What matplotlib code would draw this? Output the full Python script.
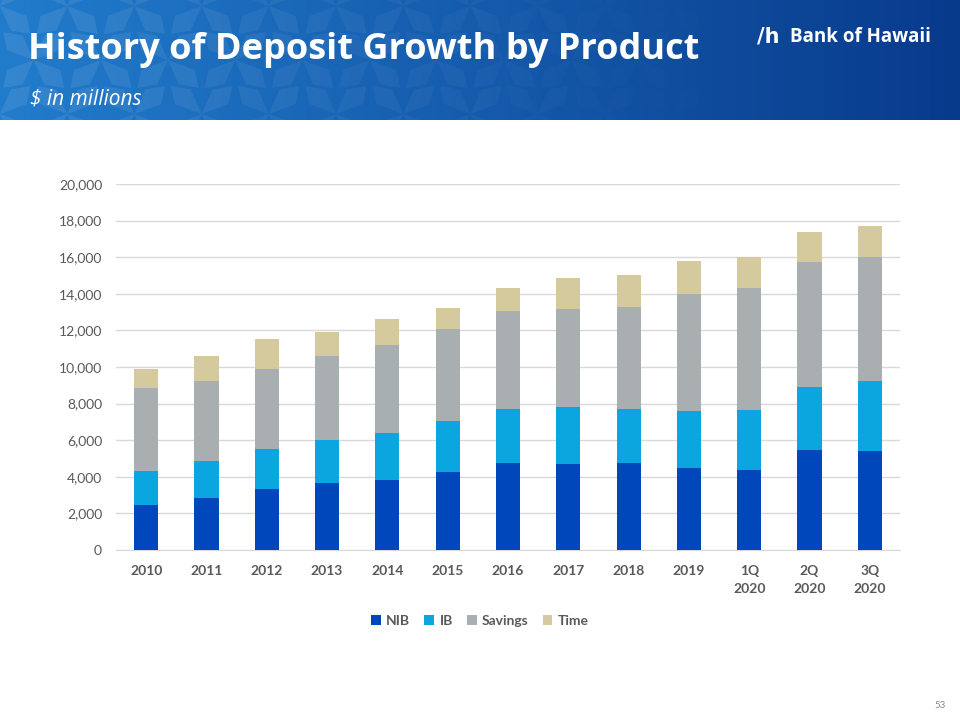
import matplotlib
matplotlib.use("Agg")
import matplotlib.pyplot as plt
import numpy as np
from matplotlib.patches import Polygon

categories = ["2010", "2011", "2012", "2013", "2014", "2015", "2016", "2017",
              "2018", "2019", "1Q\n2020", "2Q\n2020", "3Q\n2020"]
nib = [2460, 2860, 3330, 3660, 3830, 4260, 4750, 4700, 4750, 4480, 4370, 5460, 5410]
ib = [1870, 2020, 2190, 2350, 2580, 2800, 2950, 3110, 2950, 3120, 3280, 3440, 3830]
savings = [4520, 4360, 4370, 4590, 4790, 5010, 5340, 5360, 5570, 6390, 6670, 6830, 6780]
time_dep = [1040, 1370, 1640, 1310, 1420, 1150, 1280, 1690, 1750, 1800, 1690, 1640, 1690]
series_names = ["NIB", "IB", "Savings", "Time"]
yticks = [0, 2000, 4000, 6000, 8000, 10000, 12000, 14000, 16000, 18000, 20000]

colors = ["#0047BB", "#0BA5E0", "#A9AEB1", "#D5CA9E"]
W, H = 960, 720
fig = plt.figure(figsize=(9.6, 7.2), dpi=100)
fig.patch.set_facecolor("white")

# header banner
hax = fig.add_axes([0, 1 - 120 / H, 1, 120 / H])
hax.set_axis_off()
grad = np.linspace(0, 1, 400)
c1 = np.array([0x22, 0x7C, 0xCC]) / 255
c2 = np.array([0x08, 0x3A, 0x8C]) / 255
img = (c1[None, :] * (1 - grad[:, None]) + c2[None, :] * grad[:, None])[None, :, :]
hax.imshow(img, aspect="auto", extent=[0, 1, 0, 1])
# faint star pattern
for i in range(0, 14):
    for j in range(0, 3):
        cx = i * 0.07 + (0.035 if j % 2 else 0)
        cy = j * 0.45 + 0.05
        a = max(0.0, 0.09 * (1 - cx / 0.75))
        if a <= 0:
            continue
        for ang in range(4):
            th = np.pi / 2 * ang + np.pi / 4
            pts = [(cx, cy), (cx + 0.03 * np.cos(th - 0.4), cy + 0.22 * np.sin(th - 0.4)),
                   (cx + 0.045 * np.cos(th), cy + 0.33 * np.sin(th)),
                   (cx + 0.03 * np.cos(th + 0.4), cy + 0.22 * np.sin(th + 0.4))]
            hax.add_patch(Polygon(pts, closed=True, facecolor="white", alpha=a, lw=0))
hax.set_xlim(0, 1)
hax.set_ylim(0, 1)
hax.text(28 / W, 1 - 50 / 120, "History of Deposit Growth by Product", color="white",
         fontsize=26, fontweight="bold", family="Open Sans", va="center", ha="left")
hax.text(30 / W, 1 - 99 / 120, "$ in millions", color="white", fontsize=15,
         style="italic", family="Open Sans", va="center", ha="left")
hax.text(790 / W, 1 - 37 / 120, "Bank of Hawaii", color="white", fontsize=13.5,
         fontweight="bold", family="Open Sans", va="center", ha="left")
hax.text(757 / W, 1 - 36 / 120, "/h", color="white", fontsize=15,
         fontweight="bold", family="DejaVu Sans", va="center", ha="left")

# chart
ax = fig.add_axes([116 / W, 1 - 550 / H, (900 - 116) / W, (550 - 184) / H])
x = np.arange(len(categories))
bottom = np.zeros(len(categories))
for vals, c, name in zip([nib, ib, savings, time_dep], colors, series_names):
    ax.bar(x, vals, width=0.4, bottom=bottom, color=c, label=name, zorder=3)
    bottom += np.array(vals)

ax.set_xlim(-0.5, len(categories) - 0.5)
ax.set_ylim(0, 20000)
ax.set_yticks(yticks)
ax.set_yticklabels([f"{v:,}" for v in yticks])
ax.set_xticks(x)
ax.set_xticklabels(categories, fontweight="bold", linespacing=1.6)
ax.grid(axis="y", color="#D9D9D9", lw=1, zorder=0)
for s in ["top", "right", "left"]:
    ax.spines[s].set_visible(False)
ax.spines["bottom"].set_color("#D9D9D9")
ax.tick_params(axis="both", length=0, labelsize=10, colors="#595959", labelfontfamily="Lato")
ax.tick_params(axis="y", pad=10)
ax.tick_params(axis="x", pad=11)

leg = fig.legend(loc="center", bbox_to_anchor=(0.5, 1 - 621 / H), ncol=4, frameon=False,
                 handlelength=0.7, handleheight=0.7, handletextpad=0.4, columnspacing=1.0,
                 prop={"family": "Lato", "weight": "bold", "size": 10})
for t in leg.get_texts():
    t.set_color("#595959")

fig.text(946 / W, 1 - 705 / H, "53", color="#8C8C8C", fontsize=7, family="Lato",
         ha="right", va="center")

fig.savefig("out.png", dpi=100)
